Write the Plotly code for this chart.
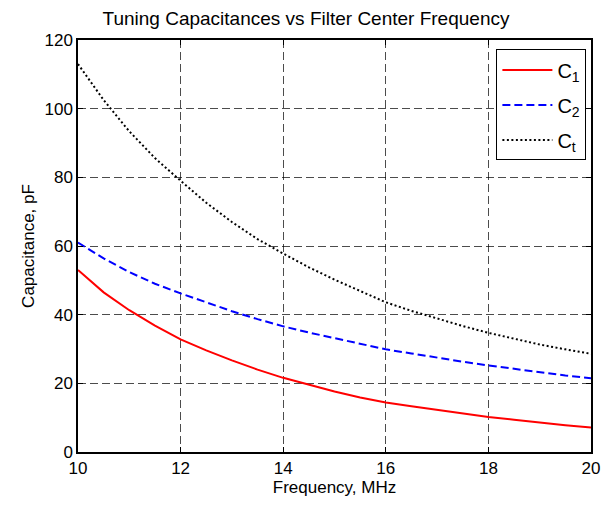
import plotly.graph_objects as go

freq = [10, 10.5, 11, 11.5, 12, 12.5, 13, 13.5, 14, 14.5, 15, 15.5, 16, 16.5, 17, 17.5, 18, 18.5, 19, 19.5, 20]
c1 = [53, 46.5, 41.3, 36.8, 32.8, 29.6, 26.7, 24.0, 21.6, 19.5, 17.6, 15.9, 14.4, 13.3, 12.2, 11.1, 10.2, 9.4, 8.5, 7.8, 7.1]
c2 = [61, 56.4, 52.4, 49.0, 46.2, 43.5, 41.0, 38.7, 36.6, 34.8, 33.1, 31.4, 29.9, 28.7, 27.4, 26.3, 25.2, 24.2, 23.2, 22.3, 21.5]
ct = [113, 102.5, 93.4, 85.6, 79.0, 72.6, 67.0, 62.0, 57.8, 53.8, 50.2, 46.8, 43.6, 41.1, 38.8, 36.7, 34.7, 32.9, 31.3, 29.9, 28.6]

xticks = [10, 12, 14, 16, 18, 20]
yticks = [0, 20, 40, 60, 80, 100, 120]

font = "Liberation Sans, Arial, Helvetica, sans-serif"

fig = go.Figure()
fig.add_trace(go.Scatter(x=freq, y=c1, mode="lines", name="C<sub>1</sub>", legendgroup="g1",
                         line=dict(color="#ff0000", width=2, dash="solid")))
fig.add_trace(go.Scatter(x=freq, y=c2, mode="lines", name="C<sub>2</sub>", legendgroup="g2",
                         line=dict(color="#0000ff", width=2, dash="8px,4px")))
fig.add_trace(go.Scatter(x=freq, y=ct, mode="lines", name="C<sub>t</sub>", legendgroup="g3",
                         line=dict(color="#000000", width=2, dash="2px,2.5px")))

axis_common = dict(
    showline=True, linecolor="black", linewidth=1.5, mirror="ticks",
    ticks="inside", ticklen=5, tickcolor="black", tickwidth=1,
    showgrid=True, gridcolor="rgba(0,0,0,0.7)", gridwidth=1, griddash="8px,4px",
    zeroline=False, tickfont=dict(family=font, size=17, color="black"),
)

fig.update_layout(
    width=612, height=506,
    margin=dict(l=78, r=13, t=40, b=54),
    paper_bgcolor="white", plot_bgcolor="white",
    title=dict(text="Tuning Capacitances vs Filter Center Frequency",
               x=0.5, xanchor="center", y=0.963, yanchor="middle",
               font=dict(family=font, size=19, color="black")),
    xaxis=dict(range=[10, 20], tickvals=xticks, ticktext=[str(v) for v in xticks],
               title=dict(text="Frequency, MHz", font=dict(family=font, size=17, color="black"), standoff=2),
               **axis_common),
    yaxis=dict(range=[0, 120], tickvals=yticks, ticktext=[str(v) for v in yticks],
               title=dict(text="Capacitance, pF", font=dict(family=font, size=17, color="black"), standoff=6),
               **axis_common),
    legend=dict(x=0.991, y=0.977, xanchor="right", yanchor="top",
                bgcolor="white", bordercolor="black", borderwidth=1,
                font=dict(family=font, size=20, color="black"),
                tracegroupgap=6, itemwidth=50),
    showlegend=True,
)

fig.write_html("out.html")
